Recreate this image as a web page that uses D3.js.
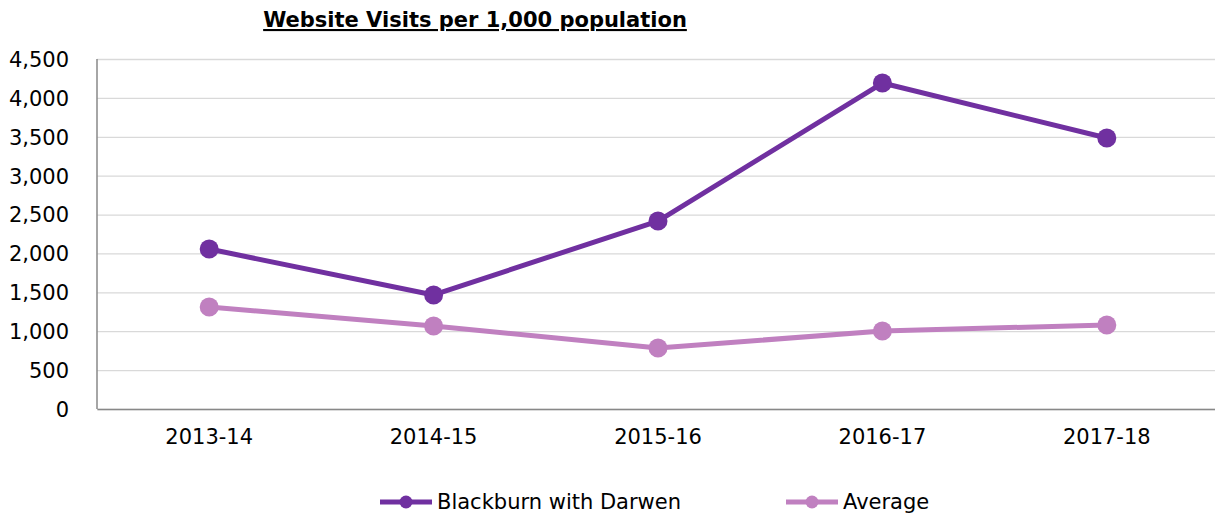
<!DOCTYPE html>
<html>
<head>
<meta charset="utf-8">
<script src="https://cdn.jsdelivr.net/npm/d3@7"></script>
<style>
  body { margin: 0; background: #fff; }
  svg text { font-family: "DejaVu Sans", Verdana, sans-serif; fill: #000; }
</style>
</head>
<body>
<div class="chart-line"></div>
<script>
// data
var categories = ["2013-14", "2014-15", "2015-16", "2016-17", "2017-18"];
var blackburn = [2057, 1466, 2417, 4191, 3484];
var average = [1311, 1067, 784, 1003, 1080];
var yTicks = [0, 500, 1000, 1500, 2000, 2500, 3000, 3500, 4000, 4500];
var seriesNames = ["Blackburn with Darwen", "Average"];
var colors = ["#7030A0", "#C080C0"];

var width = 1215, height = 518;
var svg = d3.select(".chart-line").append("svg")
  .attr("width", width).attr("height", height);

// scales
var xScale = d3.scaleBand().domain(categories).range([97, 1219]);
var yScale = d3.scaleLinear().domain([0, 4500]).range([409, 59]);

// grid lines
svg.append("g")
  .attr("class", "grid")
  .attr("transform", "translate(97,0)")
  .call(d3.axisLeft(yScale).tickValues(yTicks).tickSize(-1122).tickFormat(""))
  .call(g => g.select(".domain").remove())
  .call(g => g.selectAll("line").attr("stroke", "#d9d9d9").attr("stroke-width", 1.3));

// y axis labels
svg.append("g")
  .attr("transform", "translate(97,0)")
  .call(d3.axisLeft(yScale).tickValues(yTicks).tickSize(0).tickPadding(28).tickFormat(d3.format(",")))
  .call(g => g.select(".domain").remove())
  .call(g => g.selectAll("text").style("font-size", "21px").attr("dy", "0.35em"));

// y axis line
svg.append("line")
  .attr("x1", 97).attr("x2", 97).attr("y1", 59).attr("y2", 409)
  .attr("stroke", "#888").attr("stroke-width", 1.5);

// x axis
svg.append("g")
  .attr("transform", "translate(0,409)")
  .call(d3.axisBottom(xScale).tickSize(0).tickPadding(20))
  .call(g => g.select(".domain").attr("stroke", "#888").attr("stroke-width", 1.5))
  .call(g => g.selectAll("text").style("font-size", "21px"));

// lines + markers
var series = [blackburn, average];
var line = d3.line()
  .x((d, i) => xScale(categories[i]) + xScale.bandwidth() / 2)
  .y(d => yScale(d));

series.forEach(function (vals, s) {
  svg.append("path")
    .datum(vals)
    .attr("fill", "none")
    .attr("stroke", colors[s])
    .attr("stroke-width", 5)
    .attr("stroke-linejoin", "round")
    .attr("d", line);
  svg.append("g").selectAll("circle")
    .data(vals)
    .enter().append("circle")
    .attr("cx", (d, i) => xScale(categories[i]) + xScale.bandwidth() / 2)
    .attr("cy", d => yScale(d))
    .attr("r", 9.5)
    .attr("fill", colors[s]);
});

// title
svg.append("text")
  .attr("x", 475).attr("y", 27)
  .attr("text-anchor", "middle")
  .style("font-size", "21px")
  .style("font-weight", "bold")
  .style("text-decoration", "underline")
  .text("Website Visits per 1,000 population");

// legend
var legendX = [380, 786];
seriesNames.forEach(function (name, s) {
  var g = svg.append("g").attr("transform", "translate(" + legendX[s] + ",502)");
  g.append("line").attr("x1", 0).attr("x2", 52)
    .attr("stroke", colors[s]).attr("stroke-width", 5);
  g.append("circle").attr("cx", 26).attr("r", 6.5).attr("fill", colors[s]);
  g.append("text").attr("x", 57).attr("dy", "0.35em")
    .style("font-size", "21px").text(name);
});
</script>
</body>
</html>
